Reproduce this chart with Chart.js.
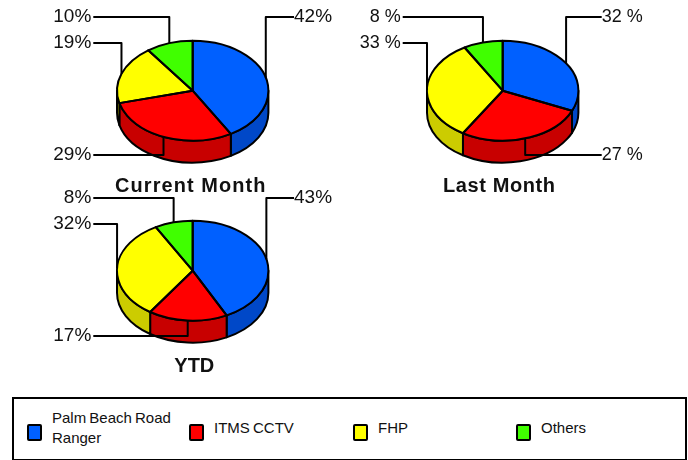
<!DOCTYPE html>
<html>
<head>
<meta charset="utf-8">
<title>Current Month, Last Month, YTD</title>
<script src="https://cdn.jsdelivr.net/npm/chart.js"></script>
<style>
html, body { margin: 0; padding: 0; background: #fff; }
#page { position: relative; width: 688px; height: 460px; overflow: hidden; font-family: "Liberation Sans", Arial, sans-serif; }
#page canvas { position: absolute; }
#legend { position: absolute; left: 12px; top: 397px; width: 671px; height: 60px; border: 2px solid #000; }
.item { position: absolute; top: 0; height: 60px; display: flex; align-items: center; font-size: 15px; line-height: 20px; color: #111; }
.swatch { width: 11px; height: 13px; border: 2px solid #000; border-radius: 2px; margin-right: 10px; flex: none; position: relative; top: 3px; }
.item span { position: relative; top: -1px; word-spacing: -1px; }
</style>
</head>
<body>
<div id="page">
    <canvas id="currentChart" width="300" height="200" style="left:40px;top:0"></canvas>
    <canvas id="lastChart" width="300" height="200" style="left:350px;top:0"></canvas>
    <canvas id="ytdChart" width="300" height="200" style="left:40px;top:180px"></canvas>
    <div id="legend"></div>
</div>
<script>
var categories = ["Palm Beach Road Ranger", "ITMS CCTV", "FHP", "Others"];
var currentMonth = [41.6, 29.4, 19, 10];
var lastMonth = [31.6, 27.2, 32.8, 8.4];
var ytd = [42.6, 16.9, 32.4, 8.1];
var currentLabels = ["42%", "29%", "19%", "10%"];
var lastLabels = ["32 %", "27 %", "33 %", "8 %"];
var ytdLabels = ["43%", "17%", "32%", "8%"];

var topColors = ["#0060ff", "#ff0000", "#ffff00", "#40ff00"];
var sideColors = ["#0048c8", "#c80000", "#cccc00", "#30c000"];

var SQUASH = 0.66;  // ellipse height / width
var DEPTH = 22;

// Pie is squashed to an ellipse, side wall, outlines and leader lines are added around it
var pie3d = {
    id: "pie3d",
    afterLayout: function (chart, args, opts) {
        // nudge the title sideways, it does not sit exactly under the pie
        chart.titleBlock.left += opts.titleShift;
        chart.titleBlock.right += opts.titleShift;
    },
    beforeDraw: function (chart, args, opts) {
        chart.ctx.letterSpacing = opts.titleSpacing;
    },
    beforeDatasetsDraw: function (chart) {
        var ctx = chart.ctx;
        var arcs = chart.getDatasetMeta(0).data;
        var cx = arcs[0].x, cy = arcs[0].y, rx = arcs[0].outerRadius, ry = rx * SQUASH;

        ctx.save();
        ctx.lineWidth = 2;
        ctx.strokeStyle = "#000";
        ctx.lineJoin = "round";
        arcs.forEach(function (arc, i) {
            // only the part of the slice in the front half has a visible wall
            var ranges = [[arc.startAngle, arc.endAngle], [arc.startAngle + Math.PI * 2, arc.endAngle + Math.PI * 2]];
            ranges.forEach(function (r) {
                var a0 = Math.max(r[0], 0), a1 = Math.min(r[1], Math.PI);
                if (a1 <= a0) return;
                ctx.beginPath();
                ctx.ellipse(cx, cy, rx, ry, 0, a0, a1);
                ctx.ellipse(cx, cy + DEPTH, rx, ry, 0, a1, a0, true);
                ctx.closePath();
                ctx.fillStyle = sideColors[i];
                ctx.fill();
                ctx.stroke();
            });
        });
        ctx.restore();

        ctx.save();
        ctx.translate(cx, cy);
        ctx.scale(1, SQUASH);
        ctx.translate(-cx, -cy);
    },
    afterDatasetsDraw: function (chart, args, opts) {
        var ctx = chart.ctx;
        ctx.restore();

        var arcs = chart.getDatasetMeta(0).data;
        var cx = arcs[0].x, cy = arcs[0].y, rx = arcs[0].outerRadius, ry = rx * SQUASH;

        ctx.save();
        ctx.lineWidth = 2;
        ctx.strokeStyle = "#000";
        ctx.lineJoin = "round";
        arcs.forEach(function (arc) {
            ctx.beginPath();
            ctx.moveTo(cx, cy);
            ctx.ellipse(cx, cy, rx, ry, 0, arc.startAngle, arc.endAngle);
            ctx.closePath();
            ctx.stroke();
        });

        // leader lines: from the middle of the slice edge, straight up or down, then out to the label
        ctx.letterSpacing = "0px";
        ctx.font = opts.labelSize + "px 'Liberation Sans', Arial, sans-serif";
        ctx.fillStyle = "#111";
        ctx.textBaseline = "middle";
        arcs.forEach(function (arc, i) {
            var mid = (arc.startAngle + arc.endAngle) / 2;
            var ex = cx + rx * Math.cos(mid), ey = cy + ry * Math.sin(mid);
            var ly = opts.labelY[i];
            var right = ex > cx;
            var endX = right ? opts.rightX : opts.leftX;
            ctx.beginPath();
            ctx.moveTo(ex, ey);
            ctx.lineTo(ex, ly);
            ctx.lineTo(endX, ly);
            ctx.stroke();
            ctx.textAlign = right ? "left" : "right";
            ctx.fillText(opts.labels[i], endX + (right ? 0 : -2), ly);
        });
        ctx.restore();
    }
};

function makePie(id, title, values, labels, look) {
    return new Chart(document.getElementById(id), {
        type: "pie",
        data: {
            labels: categories,
            datasets: [{ data: values, backgroundColor: topColors, borderWidth: 0 }]
        },
        options: {
            responsive: false,
            animation: false,
            events: [],
            layout: { padding: { left: 77, right: 71.6, top: 15, bottom: 1.3 } },
            plugins: {
                legend: { display: false },
                tooltip: { enabled: false },
                title: {
                    display: true,
                    text: title,
                    position: "bottom",
                    color: "#111",
                    padding: { top: 8.3, bottom: 0 },
                    font: { family: "'Liberation Sans', Arial, sans-serif", size: 20, weight: "bold" }
                },
                pie3d: Object.assign({ labels: labels }, look)
            }
        },
        plugins: [pie3d]
    });
}

makePie("currentChart", "Current Month", currentMonth, currentLabels,
    { labelY: [17, 155, 43, 17], leftX: 53.3, rightX: 254, labelSize: 19, titleSpacing: "1.1px", titleShift: -1.9 });
makePie("lastChart", "Last Month", lastMonth, lastLabels,
    { labelY: [17, 155, 43, 17], leftX: 52.7, rightX: 251.7, labelSize: 18, titleSpacing: "0.6px", titleShift: -3.4 });
makePie("ytdChart", "YTD", ytd, ytdLabels,
    { labelY: [18, 156, 44, 18], leftX: 53.3, rightX: 254, labelSize: 19, titleSpacing: "0px", titleShift: 1.6 });

// Legend box under the charts
var legendLeft = [13, 175, 339, 502];
var legendBox = document.getElementById("legend");
categories.forEach(function (name, i) {
    var item = document.createElement("div");
    item.className = "item";
    item.style.left = legendLeft[i] + "px";
    if (i === 0) item.style.width = "150px";
    var swatch = document.createElement("div");
    swatch.className = "swatch";
    swatch.style.background = topColors[i];
    var text = document.createElement("span");
    text.textContent = name;
    item.appendChild(swatch);
    item.appendChild(text);
    legendBox.appendChild(item);
});
</script>
</body>
</html>
